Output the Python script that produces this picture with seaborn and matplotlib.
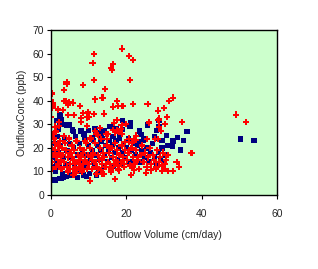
import numpy as np
import pandas as pd
import matplotlib
matplotlib.use("Agg")
import matplotlib.pyplot as plt
import seaborn as sns

# red diamonds (series 1)
red_x = [11.4, 18.9, 11.1, 16.5, 15.9, 16.2, 4.2, 4.2, 11.4, 8.5, 3.5, 14.3, 0.3, 20.7, 21.8, 21.0,
         0.2, 0.0, 0.5, 0.6, 0.4, 3.5, 4.0, 4.5, 1.9, 5.8, 7.7, 4.5, 3.2, 6.1, 8.5, 9.8, 10.1, 11.7, 11.4,
         13.7, 16.5, 17.5, 17.8, 19.0, 21.8, 25.7, 0.0, 16.8, 26.0, 28.4, 9.6,
         32.4, 31.3, 30.0, 28.7, 30.8, 30.3, 28.7, 29.2, 34.8, 49.1, 51.8,
         37.3, 33.4, 34.0, 32.3, 31.0, 29.5,
         17.0, 21.2, 25.2, 14.1, 15.9, 17.8, 19.4, 10.4, 12.1, 13.7,
         14.1, 28.4, 28.7, 17.5, 18.8, 19.9, 18.6, 18.3, 18.8, 22.6, 22.0, 22.6, 25.5, 27.6, 28.4,
         14.6, 15.1, 14.9, 16.5, 17.5, 17.0, 20.7, 21.5, 19.6, 20.7,
         2.1, 2.1, 1.1, 9.6, 13.0, 11.7, 12.5, 13.3, 9.0, 8.0, 8.0, 4.8, 1.9, 9.8,
         0.2, 0.5, 0.3, 0.4, 0.8, 1.0, 1.2, 1.5, 1.3, 1.8, 2.0, 2.2, 2.5, 2.6, 2.8, 3.0, 3.2, 3.5,
         3.8, 4.0, 4.2, 4.5, 4.8, 4.6, 0.6, 1.4, 3.4,
         5.0, 5.2, 5.5, 5.8, 6.0, 6.2, 6.5, 6.8, 7.0, 7.2, 7.5, 7.8, 8.0, 8.3, 8.5, 8.8, 9.0, 9.3,
         9.5, 9.8, 5.5, 6.5, 7.5, 8.5, 9.5, 6.0, 7.0, 8.0,
         10.0, 10.3, 10.6, 10.9, 11.2, 11.5, 11.8, 12.1, 12.4, 12.7, 13.0, 13.3, 13.6, 13.9, 14.2,
         14.5, 14.8, 10.5, 12.0, 11.0, 13.5, 12.5,
         15.2, 15.5, 15.8, 16.1, 16.4, 16.7, 17.0, 17.3, 17.6, 17.9, 18.2, 18.5, 18.8, 19.1, 19.4,
         19.7, 16.0, 18.0,
         20.2, 20.6, 21.0, 21.4, 21.8, 22.2, 22.6, 23.0, 23.4, 23.8, 24.2, 24.6, 25.0, 22.0, 21.5,
         25.4, 25.8, 26.2, 26.6, 27.0, 27.4, 27.8, 28.2, 28.6, 29.0, 29.4, 29.8, 30.2, 30.6, 31.0,
         26.5, 28.0, 30.0]
red_y = [59.8, 62.1, 56.1, 55.6, 54.0, 53.2, 48.0, 47.1, 48.9, 46.7, 44.5, 45.1, 43.3, 59.0, 57.4, 48.9,
         42.9, 40.3, 39.2, 38.0, 37.0, 40.0, 39.9, 38.2, 36.2, 39.2, 37.8, 34.0, 36.0, 34.0, 34.9, 34.9, 33.2, 40.6, 34.4,
         41.3, 37.5, 40.0, 37.8, 37.8, 38.6, 38.6, 33.2, 30.7, 30.8, 31.8, 33.0,
         41.3, 40.0, 37.0, 31.9, 33.2, 30.2, 29.0, 27.3, 31.1, 34.1, 31.1,
         17.9, 14.0, 12.0, 10.3, 10.3, 10.3,
         6.8, 8.6, 9.5, 9.0, 11.2, 11.2, 12.0, 6.1, 9.0, 9.0,
         34.5, 35.8, 32.4, 31.9, 29.8, 30.2, 28.1, 27.0, 26.0, 25.2, 23.9, 23.5, 23.8, 23.8, 23.8,
         25.9, 26.0, 23.9, 27.7, 27.3, 26.6, 23.9, 22.2, 22.6, 22.6,
         31.1, 29.3, 29.0, 29.3, 28.4, 27.2, 25.5, 23.8, 22.9, 32.6, 31.0, 39.5, 36.5, 35.2,
         20.0, 17.0, 14.0, 11.0, 24.0, 22.0, 19.0, 16.0, 12.0, 21.0, 13.0, 18.0, 23.0, 15.0, 11.0, 20.0, 17.0, 14.0,
         22.0, 19.0, 12.0, 16.0, 24.0, 10.0, 26.0, 27.0, 25.0,
         13.0, 18.0, 21.0, 11.0, 15.0, 19.0, 9.5, 23.0, 14.0, 17.0, 12.0, 20.0, 16.0, 10.0, 13.0, 19.0, 15.0, 22.0,
         11.0, 17.0, 16.0, 13.0, 15.0, 18.0, 14.0, 8.5, 10.5, 12.0,
         13.0, 20.0, 16.0, 11.0, 18.0, 14.0, 22.0, 12.0, 17.0, 15.0, 20.0, 10.5, 13.0, 18.0, 16.0,
         12.0, 21.0, 24.0, 26.0, 15.0, 15.5, 11.0,
         14.0, 18.0, 12.0, 20.0, 16.0, 13.0, 22.0, 15.0, 19.0, 12.5, 17.0, 14.0, 21.0, 16.0, 13.0,
         19.0, 10.0, 10.5,
         15.0, 18.0, 12.5, 20.0, 16.0, 13.0, 19.0, 15.0, 11.0, 17.0, 21.0, 14.0, 18.0, 10.5, 11.5,
         12.0, 16.0, 20.0, 13.0, 17.0, 15.0, 11.0, 19.0, 14.0, 16.0, 12.5, 18.0, 13.0, 15.0, 17.0,
         10.5, 12.0, 11.0]

# navy squares (series 2)
blue_x = [36.1, 50.4, 53.9, 33.6, 35.2, 32.4, 32.3, 34.4, 30.7, 29.4, 28.1, 29.5, 35.3, 34.5,
          1.1, 2.4, 3.2, 2.7,
          2.4, 2.4, 3.7, 4.2, 5.0, 1.6, 8.0, 5.8, 8.8, 11.7, 11.9, 13.5, 12.5, 10.9,
          21.2, 21.2, 15.7, 14.1, 17.3, 19.1, 23.6, 23.9, 13.5, 13.3, 16.5, 18.3, 24.7, 23.4, 27.6,
          28.7, 28.7, 28.1, 2.4, 2.7, 19.1, 21.0, 25.7, 23.6,
          0.3, 0.5, 0.8, 1.0, 1.2, 1.5, 1.8, 2.0, 2.3, 2.6, 3.0, 3.3, 3.6, 4.0, 4.3, 4.6, 5.0, 5.3,
          5.6, 6.0, 6.3, 6.6, 7.0, 7.3, 7.6, 8.0, 8.3, 8.6, 9.0, 9.3, 9.6, 10.0, 10.3, 10.6, 11.0,
          11.3, 11.6, 12.0, 12.3, 12.6, 13.0, 13.3, 13.6, 14.0, 14.3, 14.6, 15.0, 15.3, 15.6, 16.0,
          16.3, 16.6, 17.0, 17.3, 17.6, 18.0, 18.3, 18.6, 19.0, 19.3, 19.6, 20.0, 20.5, 21.0, 21.5,
          22.0, 22.5, 23.0, 23.5, 24.0, 24.5, 25.0, 25.5, 26.0, 26.5, 27.0, 27.5, 28.0, 28.5, 29.0,
          29.5, 30.0, 30.5, 31.0, 4.0, 7.0, 9.5, 12.0, 2.0, 6.0, 10.0, 0.5]
blue_y = [26.9, 23.8, 23.3, 24.3, 23.3, 22.9, 20.5, 19.1, 25.2, 23.3, 23.9, 23.0, 23.0, 19.2,
          6.4, 6.9, 7.3, 6.9,
          33.5, 30.2, 30.0, 29.6, 29.7, 31.8, 27.2, 27.6, 25.9, 28.0, 26.3, 26.3, 26.3, 24.2,
          30.7, 29.8, 29.0, 27.3, 28.1, 27.7, 27.3, 25.6, 25.2, 22.6, 24.7, 23.9, 23.9, 22.6, 24.7,
          29.0, 31.5, 27.3, 34.0, 32.2, 31.8, 29.0, 29.7, 27.2,
          12, 16, 19, 22, 10, 14, 25, 18, 12, 21, 9, 16, 24, 13, 19, 11, 22, 16,
          8.5, 20, 13, 25, 17, 10, 22, 14, 19, 8.5, 24, 12, 17, 21, 9, 15, 19,
          23, 13, 17, 21, 10, 15, 19, 24, 12, 17, 21, 14, 19, 23, 16,
          21, 12, 18, 23, 15, 20, 25, 13, 18, 22, 16, 20, 24, 14, 19,
          22, 17, 21, 14, 19, 23, 16, 20, 14, 18, 22, 16, 13, 18, 15,
          20, 14, 17, 21, 8, 7.5, 8, 8.5, 28, 27, 27.5, 26]

df_red = pd.DataFrame({"vol": red_x, "conc": red_y})
df_blue = pd.DataFrame({"vol": blue_x, "conc": blue_y})

sns.set_style("ticks")
plt.rcParams["font.family"] = ["Liberation Sans", "DejaVu Sans"]

fig = plt.figure(figsize=(3.18, 2.69), dpi=100)
ax = fig.add_axes([0.160, 0.275, 0.711, 0.613])
ax.set_facecolor("#CCFFCC")

sns.scatterplot(data=df_blue, x="vol", y="conc", ax=ax, marker="s", s=14,
                color="#000080", edgecolor="none", linewidth=0)
sns.scatterplot(data=df_red, x="vol", y="conc", ax=ax, marker="P", s=22,
                color="#FF0000", edgecolor="none", linewidth=0)

ax.set_xlim(0, 60)
ax.set_ylim(0, 70)
ax.set_xticks([0, 20, 40, 60])
ax.set_yticks(range(0, 71, 10))
ax.set_xlabel("Outflow Volume (cm/day)", fontsize=7.5, labelpad=8)
ax.set_ylabel("OutflowConc (ppb)", fontsize=7.5, labelpad=4)
ax.tick_params(axis="both", labelsize=7.5, length=3, width=0.8, color="black", pad=2)
ax.tick_params(axis="x", pad=7)
for sp in ax.spines.values():
    sp.set_color("black")
    sp.set_linewidth(1.0)
    sp.set_visible(True)

fig.savefig("out.png", dpi=100)
